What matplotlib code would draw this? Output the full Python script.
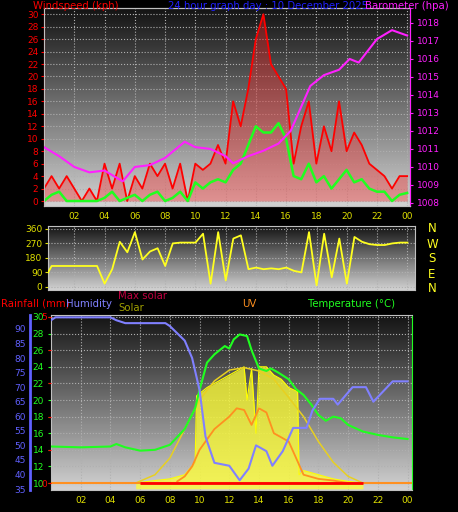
import numpy as np
import matplotlib.pyplot as plt

# ---- data ----
wind_t = np.arange(0, 24.01, 0.5)
gust = [2, 4, 2, 4, 2, 0, 2, 0, 6, 2, 6, 0, 4, 2, 6, 4, 6, 2, 6, 0,
        6, 5, 6, 9, 6, 16, 12, 18, 26, 30, 22, 20, 18, 6, 12, 16, 6, 12,
        8, 16, 8, 11, 9, 6, 5, 4, 2, 4, 4]
avg = [0, 1, 1.5, 0, 0, 0, 0, 0, 0.5, 1.5, 0, 0.5, 1, 0, 1, 1.5, 0, 0.5,
       1.5, 0, 3, 2, 3, 3.5, 3, 5, 6, 9, 12, 11, 11, 12.5, 10, 4, 3.5, 6,
       3, 4, 2, 3.5, 5, 3, 3.5, 2, 1.5, 1.5, 0, 1, 1.3]
baro_t = [0, 1, 2, 3, 4, 4.6, 5.2, 6, 7, 8, 9.3, 10, 11, 12, 12.5, 13.5, 14.5,
          15.5, 16.3, 17.6, 18.5, 19.5, 20.2, 20.8, 22, 23, 24]
baro = [1011.1, 1010.6, 1010.0, 1009.7, 1009.8, 1009.5, 1009.2, 1010.0,
        1010.1, 1010.5, 1011.4, 1011.1, 1011.0, 1010.6, 1010.2, 1010.6,
        1010.9, 1011.3, 1012.0, 1014.5, 1015.1, 1015.4, 1016.0, 1015.8,
        1017.1, 1017.6, 1017.3]
dir_t = np.arange(0, 24.01, 0.5)
wdir = [45, 130, 130, 130, 130, 130, 130, 130, 20, 110, 280, 215, 340, 170,
        220, 240, 130, 270, 275, 275, 275, 330, 20, 340, 40, 300, 320, 110,
        120, 110, 115, 110, 120, 100, 90, 340, 10, 330, 60, 300, 20, 310,
        280, 265, 260, 260, 270, 275, 275]
hum_t = [0, 0.3, 1, 2, 3, 4, 4.4, 5, 5.5, 6, 7, 7.7, 8, 9, 9.5, 10, 10.4, 11,
         12, 12.7, 13.3, 13.8, 14.5, 14.9, 15.6, 16.3, 17.2, 17.6, 18.1, 19,
         19.3, 20.3, 21.2, 21.7, 23, 24]
hum = [93, 94, 94, 94, 94, 94, 93, 92, 92, 92, 92, 92, 91, 86, 80, 69, 53, 44,
       43, 38, 42, 50, 48, 43, 48, 56, 56, 62, 66, 66, 64, 70, 70, 65, 72, 72]
temp_t = [0, 2, 4, 4.4, 5, 6, 7, 8, 9, 9.7, 10, 10.5, 11, 11.7, 12, 12.3,
          12.7, 13.2, 13.5, 14, 14.5, 14.8, 15.3, 16, 16.5, 17, 17.5, 18,
          18.5, 19, 19.5, 20, 21, 22, 23, 24]
temp = [14.4, 14.3, 14.4, 14.7, 14.3, 13.9, 14.0, 14.6, 16.5, 19.0, 21.2,
        24.5, 25.5, 26.5, 26.2, 27.3, 27.9, 27.7, 26.0, 23.8, 23.5, 23.8,
        23.3, 22.5, 21.3, 20.6, 19.5, 18.2, 17.5, 18.0, 17.8, 17.0, 16.2,
        15.8, 15.5, 15.3]
solar_t = [5.7, 7, 8, 9, 9.7, 9.8, 10.5, 11, 12, 12.5, 13, 13.2, 13.5, 13.8,
           14, 14.5, 15, 15.5, 16, 16.6, 16.7, 17, 18, 19, 20, 21]
solar = [10, 10.3, 10.5, 11, 12.5, 20.5, 21.5, 22, 23, 23.5, 24, 20, 23.8,
         16, 24, 24, 23, 22.5, 21.5, 21, 11, 11.5, 11, 10.5, 10.2, 10]
maxsol_t = [5.7, 7, 8, 9, 10, 11, 12, 13, 14, 15, 16, 17, 18, 19, 20, 21]
maxsol = [10, 11, 13, 16.5, 20, 22.3, 23.6, 23.9, 23.5, 22.5, 20.3, 18, 15,
          12.5, 10.8, 10]
uv_t = [8.5, 9, 9.5, 10, 11, 12, 12.5, 13, 13.5, 14, 14.5, 15, 16, 16.5, 17,
        18, 19, 20]
uv = [10.2, 10.8, 12, 14, 16.5, 18, 19, 18.8, 17, 19, 18.5, 16, 15, 13, 11,
      10.5, 10.3, 10]
xlabels = ['02', '04', '06', '08', '10', '12', '14', '16', '18', '20', '22', '00']
xticks = np.arange(2, 25, 2)

W, H = 458, 512
fig = plt.figure(figsize=(W / 100, H / 100), dpi=100, facecolor='black')


def ax_px(l, t, r, b):
    return fig.add_axes([l / W, 1 - b / H, (r - l) / W, (b - t) / H])


def backdrop(ax):
    # dark at the top, light grey at the bottom
    grad = np.linspace(0.82, 0.08, 100).reshape(-1, 1)
    ax.imshow(grad, cmap='gray', vmin=0, vmax=1, aspect='auto',
              extent=(*ax.get_xlim(), *ax.get_ylim()), origin='lower', zorder=0)
    ax.grid(True, color='#b0b0b0', linestyle=':', linewidth=0.8)
    for s in ax.spines.values():
        s.set_color('#c0c0c0')


fs = 6.5
hfs = 7.3

# ---- top: wind + barometer ----
ax1 = ax_px(44, 8, 410, 206)
ax1.set_xlim(0, 24.19)
ax1.set_ylim(-0.8, 31.0)
backdrop(ax1)
ax1.fill_between(wind_t, 0, gust, color='#ff2020', alpha=0.35, zorder=2, lw=0)
ax1.plot(wind_t, gust, color='red', lw=1.3, zorder=3)
ax1.plot(wind_t, avg, color='#20ff20', lw=1.8, zorder=4)
ax1.set_yticks(range(0, 31, 2))
ax1.tick_params(axis='y', colors='red', labelsize=fs, length=2, pad=2)
ax1.set_xticks(xticks, xlabels)
ax1.tick_params(axis='x', colors='#e0e000', labelsize=fs, length=0, pad=4)
ax1b = ax1.twinx()
ax1b.set_ylim(1007.83, 1018.83)
ax1b.plot(baro_t, baro, color='#ff20ff', lw=1.5, zorder=5)
ax1b.set_yticks(range(1008, 1019))
ax1b.tick_params(axis='y', colors='#ff20ff', labelsize=fs, length=2, pad=3)
for s in ax1b.spines.values():
    s.set_color('#c0c0c0')
ax1b.spines['right'].set_color('#ff20ff')
ax1.spines['left'].set_color('red')

fig.text(33 / W, 1 - 6 / H, 'Windspeed (kph)', color='red', fontsize=hfs, va='center')
fig.text(168 / W, 1 - 6 / H, '24 hour graph day : 10 December 2025', color='#2020ff',
         fontsize=hfs, va='center')
fig.text(365 / W, 1 - 6 / H, 'Barometer (hpa)', color='#ff20ff', fontsize=hfs, va='center')

# ---- middle: wind direction ----
ax2 = ax_px(48, 226, 415, 290)
ax2.set_xlim(0.26, 24.5)
ax2.set_ylim(-19, 378)
backdrop(ax2)
ax2.plot(dir_t, wdir, color='#ffff20', lw=1.3, zorder=3)
ax2.set_yticks([0, 90, 180, 270, 360])
ax2.tick_params(axis='y', colors='#e0e000', labelsize=fs, length=2, pad=2)
ax2.set_xticks(xticks, [])
ax2.tick_params(axis='x', length=0)
for lab, y in zip(['N', 'W', 'S', 'E', 'N'], [228, 244, 259, 274, 289]):
    fig.text(432 / W, 1 - y / H, lab, color='#ffff20', fontsize=8.5, ha='center', va='center')

# ---- bottom: humidity, rain, solar, uv, temperature ----
ax3 = ax_px(51, 315, 412, 490)
ax3.set_xlim(0, 24.3)
ax3.set_ylim(9.16, 30.24)
backdrop(ax3)
ax3.fill_between(solar_t, 9.3, solar, color='#ffff30', alpha=0.75, zorder=2, lw=0)
ax3.plot(solar_t, solar, color='#ffff00', lw=0.8, zorder=3)
ax3.plot(maxsol_t, maxsol, color='#e8d020', lw=1.1, zorder=4)
ax3.plot(uv_t, uv, color='#ff9020', lw=1.3, zorder=5)
ax3.plot(temp_t, temp, color='#20ff20', lw=1.5, zorder=6)
ax3.axhline(10, color='#ff9020', lw=1.5, zorder=5)
ax3.hlines(10, 6, 21, color='red', lw=2, zorder=6)
ax3.yaxis.tick_right()
ax3.set_yticks(range(10, 31, 2))
ax3.tick_params(axis='y', colors='#20ff20', labelsize=fs, length=2, pad=3)
ax3.spines['right'].set_color('#20ff20')
ax3.set_xticks(xticks, xlabels)
ax3.tick_params(axis='x', colors='#e0e000', labelsize=fs, length=0, pad=4)

ax3h = ax3.twinx()
ax3h.set_ylim(34.66, 94.8)
ax3h.plot(hum_t, hum, color='#8080ff', lw=1.5, zorder=7)
ax3h.yaxis.tick_left()
ax3h.spines['left'].set_position(('axes', (30 - 51) / 361))
ax3h.spines['left'].set_color('#6060ff')
ax3h.spines['left'].set_linewidth(2)
for k in ['right', 'top', 'bottom']:
    ax3h.spines[k].set_visible(False)
ax3h.set_yticks(range(35, 91, 5))
ax3h.tick_params(axis='y', colors='#6060ff', labelsize=fs, length=0, pad=3)

ax3r = ax3.twinx()
ax3r.set_ylim(-0.21, 5.06)
ax3r.yaxis.tick_left()
ax3r.set_yticks(range(0, 6), ['0', '', '', '', '', '5'])
ax3r.tick_params(axis='y', colors='red', labelsize=fs, length=2, pad=1)
for k in ['right', 'top', 'bottom', 'left']:
    ax3r.spines[k].set_visible(False)

fig.text(1 / W, 1 - 304 / H, 'Rainfall (mm)', color='red', fontsize=hfs, va='center')
fig.text(66 / W, 1 - 304 / H, 'Humidity', color='#8080ff', fontsize=hfs, va='center')
fig.text(118 / W, 1 - 296 / H, 'Max solar', color='#c00040', fontsize=hfs, va='center')
fig.text(118 / W, 1 - 308 / H, 'Solar', color='#a0a000', fontsize=hfs, va='center')
fig.text(242 / W, 1 - 304 / H, 'UV', color='#ff9020', fontsize=hfs, va='center')
fig.text(308 / W, 1 - 304 / H, 'Temperature (°C)', color='#20ff20', fontsize=hfs, va='center')

fig.savefig('out.png', dpi=100, facecolor='black')
